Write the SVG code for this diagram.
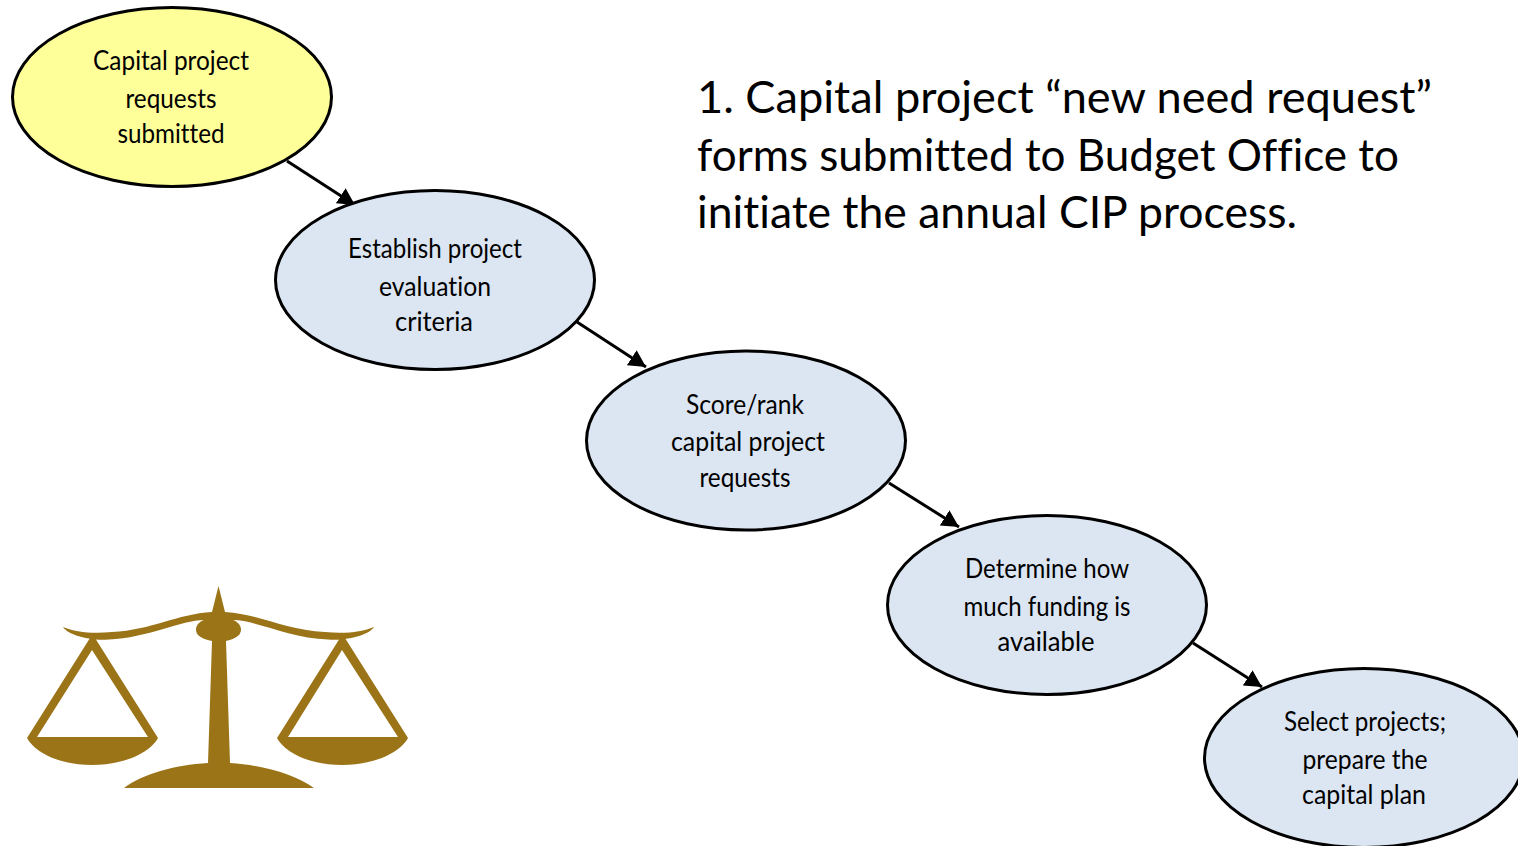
<svg xmlns="http://www.w3.org/2000/svg" width="1518" height="846" viewBox="0 0 1518 846">
<style>
.n{stroke:#000;stroke-width:3}
.y{fill:#ffff99}
.b{fill:#dce6f2}
.t{font-family:Lato,"Open Sans",sans-serif;font-size:27px;fill:#000;text-anchor:middle;font-variant-ligatures:none}
.h{font-family:Lato,"Open Sans",sans-serif;font-size:45px;fill:#000;font-variant-ligatures:none}
.c{stroke:#000;stroke-width:3;fill:none;marker-end:url(#a)}
.g{fill:#9b7418}
</style>
<defs><marker id="a" markerUnits="userSpaceOnUse" markerWidth="20" markerHeight="20" refX="17" refY="9" orient="auto"><path d="M0 0L17 9L0 18Z" fill="#000"/></marker></defs>
<rect width="1518" height="846" fill="#fff"/>
<g id="connectors">
<path class="c" d="M287 161L355 205"/>
<path class="c" d="M577 322L646 367"/>
<path class="c" d="M889 483L959 527"/>
<path class="c" d="M1193 643L1262 687"/>
</g>
<g id="node1"><ellipse class="n y" cx="172" cy="97" rx="159.500" ry="89.500"/>
<text class="t" x="171" y="70" textLength="156" lengthAdjust="spacingAndGlyphs">Capital project</text>
<text class="t" x="171" y="108" textLength="91" lengthAdjust="spacingAndGlyphs">requests</text>
<text class="t" x="171" y="143" textLength="107" lengthAdjust="spacingAndGlyphs">submitted</text></g>
<g id="node2"><ellipse class="n b" cx="435" cy="280" rx="159.500" ry="89.500"/>
<text class="t" x="435" y="258" textLength="174" lengthAdjust="spacingAndGlyphs">Establish project</text>
<text class="t" x="435" y="296" textLength="112" lengthAdjust="spacingAndGlyphs">evaluation</text>
<text class="t" x="434" y="331" textLength="78" lengthAdjust="spacingAndGlyphs">criteria</text></g>
<g id="node3"><ellipse class="n b" cx="746" cy="440.500" rx="159.500" ry="89.500"/>
<text class="t" x="745" y="414" textLength="118" lengthAdjust="spacingAndGlyphs">Score/rank</text>
<text class="t" x="748" y="451" textLength="154" lengthAdjust="spacingAndGlyphs">capital project</text>
<text class="t" x="745" y="487" textLength="91" lengthAdjust="spacingAndGlyphs">requests</text></g>
<g id="node4"><ellipse class="n b" cx="1047" cy="605" rx="159.500" ry="89.500"/>
<text class="t" x="1047" y="578" textLength="164" lengthAdjust="spacingAndGlyphs">Determine how</text>
<text class="t" x="1047" y="616" textLength="167" lengthAdjust="spacingAndGlyphs">much funding is</text>
<text class="t" x="1046" y="651" textLength="97" lengthAdjust="spacingAndGlyphs">available</text></g>
<g id="node5"><ellipse class="n b" cx="1364" cy="758" rx="159.500" ry="89.500"/>
<text class="t" x="1365" y="731" textLength="162" lengthAdjust="spacingAndGlyphs">Select projects;</text>
<text class="t" x="1365" y="769" textLength="125" lengthAdjust="spacingAndGlyphs">prepare the</text>
<text class="t" x="1364" y="804" textLength="124" lengthAdjust="spacingAndGlyphs">capital plan</text></g>
<g id="heading">
<text class="h" x="697" y="113" textLength="735" lengthAdjust="spacingAndGlyphs">1. Capital project “new need request”</text>
<text class="h" x="697" y="171" textLength="702" lengthAdjust="spacingAndGlyphs">forms submitted to Budget Office to</text>
<text class="h" x="697" y="228" textLength="600" lengthAdjust="spacingAndGlyphs">initiate the annual CIP process.</text>
</g>
<g id="scales">
<path class="g" d="M218.500 586L225 612C260 614 285 630 325 632C345 634 362 632 374 627C370 634 350 641 328 639.500C290 638 255 620 233 620C241 623 243 630 239 635C236 638 231 640 226 641L230 763C262 765 295 774 314 788L124 788C142 774 175 765 208 763L212 641C206 640 201 638 198 635C194 630 196 623 204 620C182 620 147 638 109 639.500C87 641 67 634 63 627C75 632 92 634 112 632C152 630 177 614 212 612Z"/>
<path class="g" fill-rule="evenodd" d="M90 638L95 638L158 738C149 754 122 765 92 765C62 765 36 754 27 738ZM92 650L37 737L148 737Z"/>
<path class="g" fill-rule="evenodd" d="M340 638L345 638L408 738C399 754 372 765 342 765C312 765 286 754 277 738ZM342 650L288 737L398 737Z"/>
</g>
</svg>
